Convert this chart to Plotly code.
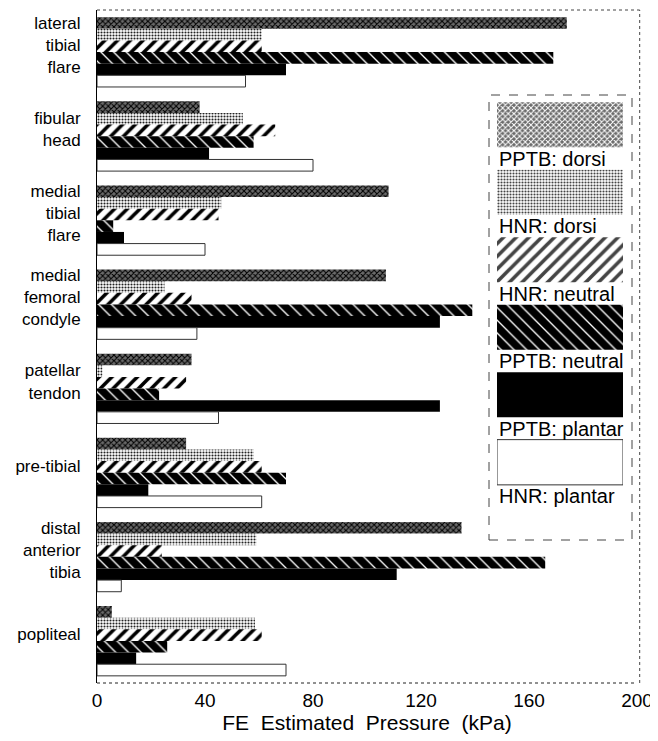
import plotly.graph_objects as go

categories = ["lateral<br>tibial<br>flare", "fibular<br>head", "medial<br>tibial<br>flare",
              "medial<br>femoral<br>condyle", "patellar<br>tendon", "pre-tibial",
              "distal<br>anterior<br>tibia", "popliteal"]

series_names = ["PPTB: dorsi", "HNR: dorsi", "HNR: neutral",
                "PPTB: neutral", "PPTB: plantar", "HNR: plantar"]

PPTB_dorsi = [174, 38, 108, 107, 35, 33, 135, 5.5]
HNR_dorsi = [61, 54, 46, 25, 2, 58, 59, 58.5]
HNR_neutral = [61, 66, 45, 35, 33, 61, 24, 61]
PPTB_neutral = [169, 58, 6, 139, 23, 70, 166, 26]
PPTB_plantar = [70, 41.5, 10, 127, 127, 19, 111, 14.5]
HNR_plantar = [55, 80, 40, 37, 45, 61, 9, 70]

x_ticks = [0, 40, 80, 120, 160, 200]
x_title = "FE\u00a0\u00a0Estimated\u00a0\u00a0Pressure\u00a0\u00a0(kPa)"

values = [PPTB_dorsi, HNR_dorsi, HNR_neutral, PPTB_neutral, PPTB_plantar, HNR_plantar]

# styles per series
colors = ["#6a6a6a", "white", "white", "black", "black", "white"]
pshape = ["x", ".", "/", "\\", "", ""]
pfg = ["black", "#222222", "black", "white", "black", "black"]
psize = [4, 3, 9, 9, 8, 8]
psol = [0.45, 0.4, 0.4, 0.15, 0.3, 0.3]
lwidth = [0, 0, 0, 0, 0, 1]

FONT = "Liberation Sans, Arial, sans-serif"

fig = go.Figure()
for i, name in enumerate(series_names):
    fig.add_trace(go.Bar(
        y=categories, x=values[i], orientation="h", name=name,
        marker=dict(color=colors[i],
                    line=dict(color="#333333", width=lwidth[i]),
                    pattern=dict(shape=pshape[i], fgcolor=pfg[i], fgopacity=1,
                                 size=psize[i], solidity=psol[i])),
        showlegend=False, xaxis="x", yaxis="y"))

# custom legend as small subplot
fig.add_trace(go.Bar(
    y=series_names, x=[1] * len(series_names), orientation="h", width=0.67,
    marker=dict(color=colors, line=dict(color="#333333", width=lwidth),
                pattern=dict(shape=pshape, fgcolor=pfg, fgopacity=1,
                             size=psize, solidity=psol)),
    showlegend=False, xaxis="x2", yaxis="y2", hoverinfo="skip"))

# plot area in screenshot px: x 97..637, y 10..683
def px_x(p):
    return (p - 97) / 540.0

def px_y(p):
    return (683 - p) / 673.0

annotations = []
for name in series_names:
    annotations.append(dict(text=name, x=0, y=name, xref="x2", yref="y2",
                            xanchor="left", yshift=-34, showarrow=False,
                            font=dict(family=FONT, size=20, color="black")))

# page body has an 8px margin, so the figure is drawn offset by 8px
fig.update_layout(
    width=650, height=733,
    margin=dict(l=89, r=21, t=2, b=58),
    paper_bgcolor="white", plot_bgcolor="white",
    barmode="group", bargap=0.17, bargroupgap=0,
    font=dict(family=FONT, color="black"),
    xaxis=dict(range=[0, 200], tickvals=x_ticks, showgrid=False, zeroline=False,
               showline=False, ticks="", automargin=False, ticklabelstandoff=4,
               tickfont=dict(size=19, family=FONT),
               title=dict(text=x_title, font=dict(size=21, family=FONT), standoff=0)),
    yaxis=dict(categoryorder="array", categoryarray=categories, autorange="reversed",
               showgrid=False, zeroline=False, showline=True, linecolor="black",
               linewidth=1, ticks="", ticklabelstandoff=12, automargin=False,
               ticklabelshift=7,
               tickfont=dict(size=17, family=FONT)),
    xaxis2=dict(domain=[px_x(497), px_x(623)], range=[0, 1], anchor="y2",
                visible=False, fixedrange=True),
    yaxis2=dict(domain=[px_y(496), px_y(91)], anchor="x2", range=[5.5, -0.5],
                type="category", categoryorder="array", categoryarray=series_names,
                visible=False, fixedrange=True),
    annotations=annotations,
    shapes=[
        dict(type="line", xref="paper", yref="paper", x0=0, x1=1, y0=0, y1=0,
             line=dict(color="#222", width=1, dash="dot")),
        dict(type="line", xref="paper", yref="paper", x0=0, x1=1.005, y0=1, y1=1,
             line=dict(color="#444", width=1, dash="dot")),
        dict(type="line", xref="paper", yref="paper", x0=1.005, x1=1.005, y0=0, y1=1,
             line=dict(color="#444", width=1, dash="dot")),
        dict(type="rect", xref="paper", yref="paper",
             x0=px_x(489), x1=px_x(632), y0=px_y(540), y1=px_y(95),
             line=dict(color="#444", width=1, dash="dash")),
    ],
)

fig.write_html("out.html")
